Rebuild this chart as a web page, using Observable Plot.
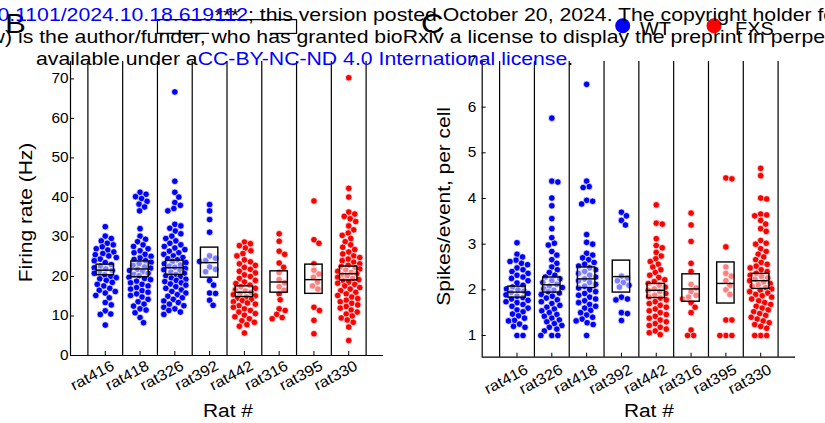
<!DOCTYPE html>
<html>
<head>
<meta charset="utf-8">
<script src="https://cdn.jsdelivr.net/npm/d3@7"></script>
<script src="https://cdn.jsdelivr.net/npm/@observablehq/plot@0.6"></script>
<style>
  html, body { margin: 0; padding: 0; background: #fff; }
  #fig { position: relative; width: 825px; height: 423px; overflow: hidden; background: #fff;
         font-family: "Liberation Sans", Arial, Helvetica, sans-serif; }
  #fig .panel { position: absolute; top: 0; }
  #fig svg.overlay { position: absolute; left: 0; top: 0; pointer-events: none; }
</style>
</head>
<body>
<div id="fig"></div>
<script>
// ---------- Rats (x categories) ----------
const ratsRate = ["rat416", "rat418", "rat326", "rat392", "rat442", "rat316", "rat395", "rat330"];
const ratsSpikes = ["rat416", "rat326", "rat418", "rat392", "rat442", "rat316", "rat395", "rat330"];
const groups = ["WT", "FXS"];

// ---------- B: firing rate per cell (Hz) ----------
const frRat416 = [32.6, 30.2, 29.6, 29.0, 28.4, 28.0, 27.5, 27.0, 26.7, 26.2, 25.8, 25.5, 25.2, 24.8, 24.4, 24.0, 23.5, 23.0, 22.6, 22.2, 21.9, 21.5, 21.1, 20.8, 20.4, 20.0, 19.7, 19.4, 19.0, 18.5, 18.0, 17.6, 17.0, 16.5, 16.2, 15.8, 15.2, 14.6, 13.4, 12.8, 11.3, 10.5, 10.4, 7.7];
const frRat418 = [41.3, 40.8, 40.2, 39.7, 39.0, 38.3, 37.6, 36.6, 32.1, 30.2, 29.4, 28.8, 28.0, 27.6, 27.0, 26.5, 26.0, 25.6, 25.1, 24.7, 24.3, 24.0, 23.6, 23.2, 22.8, 22.4, 22.1, 21.8, 21.5, 21.2, 20.8, 20.5, 20.2, 19.8, 19.5, 19.2, 18.8, 18.4, 18.0, 17.6, 17.2, 16.8, 16.4, 16.0, 15.6, 15.2, 14.8, 14.2, 13.6, 13.0, 12.5, 11.8, 11.5, 10.8, 9.6, 8.3];
const frRat326 = [66.7, 44.1, 41.3, 40.1, 38.7, 38.0, 37.2, 36.6, 33.2, 32.8, 32.2, 31.5, 30.8, 30.2, 29.6, 29.0, 28.4, 28.0, 27.6, 27.2, 26.8, 26.4, 26.0, 25.6, 25.2, 24.8, 24.5, 24.2, 23.8, 23.5, 23.2, 22.9, 22.6, 22.3, 22.0, 21.7, 21.4, 21.1, 20.8, 20.5, 20.2, 19.9, 19.6, 19.3, 19.0, 18.7, 18.4, 18.1, 17.8, 17.4, 17.0, 16.6, 16.2, 15.8, 15.4, 15.0, 14.6, 14.2, 13.8, 13.4, 13.0, 12.6, 12.2, 11.8, 11.4, 11.0, 10.4];
const frRat392 = [38.2, 36.6, 34.4, 31.2, 25.2, 24.6, 24.0, 23.8, 22.4, 21.8, 21.2, 19.0, 17.8, 15.8, 15.7, 14.0, 12.7];
const frRat442 = [28.7, 28.3, 27.8, 27.2, 26.5, 25.8, 25.2, 24.2, 23.7, 23.2, 22.8, 22.3, 21.8, 21.3, 20.9, 20.4, 20.0, 19.5, 19.0, 18.6, 18.2, 17.8, 17.4, 17.0, 16.6, 16.3, 16.0, 15.7, 15.4, 15.1, 14.8, 14.5, 14.2, 13.9, 13.6, 13.3, 13.0, 12.6, 12.2, 11.8, 11.4, 11.0, 10.6, 10.2, 9.8, 9.3, 8.8, 8.4, 7.8, 7.4, 5.7];
const frRat316 = [30.8, 28.9, 26.4, 25.6, 23.4, 22.3, 21.0, 19.2, 18.4, 17.4, 16.5, 15.6, 14.1, 11.8, 11.4, 10.4, 9.6, 9.3];
const frRat395 = [39.1, 29.3, 28.4, 23.2, 21.6, 20.6, 19.8, 18.6, 17.6, 16.8, 12.2, 11.4, 8.9, 5.5];
const frRat330 = [70.3, 42.3, 40.1, 36.3, 35.8, 35.2, 34.6, 33.9, 32.8, 31.8, 31.0, 30.4, 29.6, 28.8, 28.0, 27.4, 26.8, 26.2, 25.7, 25.2, 24.8, 24.4, 24.0, 23.6, 23.2, 22.8, 22.5, 22.2, 21.9, 21.6, 21.3, 21.0, 20.7, 20.4, 20.1, 19.8, 19.5, 19.2, 18.9, 18.6, 18.3, 18.0, 17.6, 17.2, 16.8, 16.4, 16.0, 15.6, 15.2, 14.8, 14.4, 14.0, 13.6, 13.2, 12.8, 12.4, 12.0, 11.5, 11.0, 10.5, 10.0, 9.5, 9.0, 8.4, 7.2, 3.8];
// mean and mean ± SEM, same order as ratsRate
const frMean = [21.6, 21.9, 22.2, 23.5, 16.0, 18.6, 19.2, 20.7];
const frLow  = [20.3, 19.8, 20.4, 19.7, 14.8, 15.9, 15.6, 19.0];
const frHigh = [23.0, 23.8, 24.0, 27.3, 17.5, 21.3, 23.0, 22.5];
const rateTicks = [0, 10, 20, 30, 40, 50, 60, 70];

// ---------- C: spikes per event, per cell ----------
const spRat416 = [3.03, 2.78, 2.72, 2.65, 2.62, 2.58, 2.55, 2.48, 2.44, 2.40, 2.36, 2.32, 2.28, 2.25, 2.20, 2.15, 2.10, 2.06, 2.02, 2.00, 1.97, 1.94, 1.92, 1.89, 1.86, 1.83, 1.80, 1.77, 1.74, 1.72, 1.68, 1.64, 1.60, 1.56, 1.52, 1.47, 1.43, 1.38, 1.33, 1.32, 1.25, 1.20, 1.18, 1.00, 1.00];
const spRat326 = [5.76, 4.38, 4.36, 4.01, 3.84, 3.56, 3.34, 3.14, 3.02, 2.98, 2.84, 2.76, 2.66, 2.58, 2.50, 2.44, 2.38, 2.32, 2.28, 2.24, 2.20, 2.16, 2.12, 2.08, 2.05, 2.02, 1.99, 1.96, 1.93, 1.90, 1.86, 1.82, 1.78, 1.74, 1.70, 1.66, 1.62, 1.58, 1.54, 1.50, 1.46, 1.42, 1.38, 1.34, 1.30, 1.26, 1.22, 1.18, 1.14, 1.10, 1.00, 1.00, 1.00];
const spRat418 = [6.50, 4.38, 4.26, 4.24, 3.96, 3.94, 3.88, 3.21, 3.04, 3.00, 2.80, 2.76, 2.70, 2.66, 2.60, 2.56, 2.52, 2.48, 2.44, 2.40, 2.36, 2.32, 2.28, 2.24, 2.20, 2.16, 2.12, 2.08, 2.04, 2.00, 1.96, 1.92, 1.88, 1.84, 1.80, 1.76, 1.72, 1.68, 1.64, 1.60, 1.55, 1.50, 1.45, 1.40, 1.36, 1.32, 1.28, 1.24, 1.00];
const spRat392 = [3.70, 3.62, 3.52, 3.42, 2.30, 2.26, 2.20, 2.16, 2.10, 2.06, 1.84, 1.80, 1.78, 1.50, 1.48, 1.33];
const spRat442 = [3.86, 3.46, 3.44, 3.12, 2.97, 2.92, 2.82, 2.74, 2.68, 2.62, 2.56, 2.50, 2.44, 2.38, 2.32, 2.27, 2.22, 2.18, 2.14, 2.10, 2.06, 2.02, 1.99, 1.96, 1.92, 1.88, 1.85, 1.82, 1.78, 1.74, 1.70, 1.66, 1.62, 1.58, 1.54, 1.50, 1.46, 1.42, 1.38, 1.34, 1.30, 1.26, 1.22, 1.18, 1.14, 1.10, 1.06, 1.02];
const spRat316 = [3.68, 3.42, 3.06, 2.58, 2.40, 2.12, 2.04, 1.96, 1.88, 1.84, 1.80, 1.72, 1.62, 1.50, 1.12, 1.00, 1.00];
const spRat395 = [4.45, 4.43, 2.94, 2.50, 2.36, 2.30, 2.20, 2.10, 2.00, 1.90, 1.34, 1.34, 1.00, 1.00, 1.00];
const spRat330 = [4.66, 4.50, 4.01, 3.99, 3.66, 3.64, 3.62, 3.52, 3.44, 3.34, 3.28, 3.08, 3.02, 3.00, 2.90, 2.84, 2.78, 2.72, 2.66, 2.60, 2.56, 2.52, 2.48, 2.44, 2.40, 2.36, 2.32, 2.29, 2.26, 2.23, 2.20, 2.17, 2.14, 2.11, 2.08, 2.05, 2.02, 1.99, 1.96, 1.93, 1.90, 1.87, 1.84, 1.80, 1.76, 1.72, 1.68, 1.64, 1.60, 1.56, 1.52, 1.48, 1.44, 1.40, 1.36, 1.32, 1.28, 1.24, 1.20, 1.16, 1.00, 1.00, 1.00];
// mean and mean ± SEM, same order as ratsSpikes
const spMean = [1.95, 2.11, 2.24, 2.29, 1.99, 2.02, 2.14, 2.20];
const spLow  = [1.83, 1.94, 2.04, 1.94, 1.82, 1.74, 1.70, 2.02];
const spHigh = [2.07, 2.27, 2.49, 2.64, 2.13, 2.34, 2.60, 2.35];
const spikeTicks = [1, 2, 3, 4, 5, 6, 7];

// ---------- layout ----------
const H = 423;
const FONT = "'Liberation Sans', Arial, Helvetica, sans-serif";
const TEXT_STRETCH = 1.1;

// Beeswarm: place each value at the horizontal offset (px) closest to the
// category centre that does not collide with the points already placed.
function swarm(values, slot, xs, ys, sep, maxOff) {
  const cx = xs.apply(slot);
  const pts = values.map(v => ({value: v, py: ys.apply(v)})).sort((a, b) => a.py - b.py);
  const offsets = [0];
  for (let k = 1; k * 0.5 <= maxOff; k++) offsets.push(k * 0.5, -k * 0.5);
  const placed = [];
  for (const p of pts) {
    let chosen = null, bestOff = 0, bestGap = -1;
    for (const o of offsets) {
      let gap = Infinity;
      for (const q of placed) {
        const dy = q.py - p.py;
        if (Math.abs(dy) >= sep) continue;
        gap = Math.min(gap, Math.hypot(q.off - o, dy));
      }
      if (gap >= sep) { chosen = o; break; }
      if (gap > bestGap) { bestGap = gap; bestOff = o; }
    }
    p.off = chosen ?? bestOff;
    placed.push(p);
  }
  return pts.map(p => ({value: p.value, x: xs.invert(cx + p.off)}));
}

// Widen the glyphs a little along their own baseline (rotations included).
function stretchText(svg, s) {
  svg.querySelectorAll("text").forEach(t => {
    const tr = t.getAttribute("transform");
    if (tr) t.setAttribute("transform", `${tr} scale(${s},1)`);
    else {
      const x = t.getAttribute("x") || 0, y = t.getAttribute("y") || 0;
      t.removeAttribute("x"); t.removeAttribute("y");
      t.setAttribute("transform", `translate(${x},${y}) scale(${s},1)`);
    }
  });
}

function panel(cfg) {
  const {rats, series, mean, low, high, yDomain, yTicks, width, ml, mr, mt, mb,
         yLabel, yLabelDx, yLabelDy, xLabelDx, xLabelDy, tickDx, tickDy, yTickGap, extra = []} = cfg;
  const xs = Plot.scale({x: {domain: [0, 9], range: [ml, width - mr]}});
  const ys = Plot.scale({y: {domain: yDomain, range: [H - mb, mt]}});
  const points = rats.flatMap((rat, i) =>
    swarm(series[i], i + 1, xs, ys, 6, 11).map(p => ({...p, rat, group: i < 4 ? "WT" : "FXS"})));
  const boxes = rats.map((rat, i) => ({rat, slot: i + 1, mean: mean[i], low: low[i], high: high[i]}));
  const slots = d3.range(1, rats.length + 1);

  const svg = Plot.plot({
    width, height: H,
    marginLeft: ml, marginRight: mr, marginTop: mt, marginBottom: mb,
    style: {fontFamily: FONT, fontSize: "14px", color: "#000", background: "transparent", overflow: "visible"},
    x: {domain: [0, 9]},
    y: {domain: yDomain},
    color: {domain: groups, range: ["#0000ff", "#ff0000"]},
    marks: [
      // separators between rats
      Plot.ruleX(d3.range(0.5, 9, 1), {stroke: "#000", strokeWidth: 1.2}),
      // one dot per cell
      Plot.dot(points, {x: "x", y: "value", fill: "group", stroke: "#fff", strokeWidth: 0.7, r: 3.3}),
      // mean ± SEM box with mean line
      Plot.rect(boxes, {x1: d => d.slot - 0.25, x2: d => d.slot + 0.25, y1: "low", y2: "high",
                        fill: "#fff", fillOpacity: 0.5, stroke: "#000", strokeWidth: 1.4}),
      Plot.ruleY(boxes, {y: "mean", x1: d => d.slot - 0.25, x2: d => d.slot + 0.25, stroke: "#000", strokeWidth: 1.4}),
      // axis lines
      Plot.ruleY([yDomain[0]], {stroke: "#000", strokeWidth: 1.2}),
      Plot.ruleX([0], {stroke: "#000", strokeWidth: 1.2}),
      // inward ticks
      Plot.axisY({ticks: yTicks, tickSize: -4, tickFormat: () => "", label: null}),
      Plot.axisX({ticks: slots, tickSize: -4, tickFormat: () => "", label: null}),
      // tick labels
      Plot.axisY({ticks: yTicks, tickSize: 0, tickPadding: yTickGap, tickFormat: d => String(d), label: null, fontSize: 14}),
      Plot.axisX({ticks: slots, tickSize: 0, tickFormat: i => rats[i - 1], tickRotate: -28,
                  textAnchor: "end", lineAnchor: "top", tickPadding: tickDy, dx: tickDx, label: null, fontSize: 15}),
      // axis titles
      Plot.text(["Rat #"], {text: d => d, frameAnchor: "bottom", textAnchor: "middle", lineAnchor: "bottom",
                            dx: xLabelDx, dy: xLabelDy, fontSize: 19}),
      Plot.text([yLabel], {text: d => d, frameAnchor: "left", textAnchor: "middle", lineAnchor: "middle",
                           rotate: -90, dx: yLabelDx, dy: yLabelDy, fontSize: 19}),
      ...extra
    ]
  });
  stretchText(svg, TEXT_STRETCH);
  return svg;
}

// significance bracket between the WT and FXS groups
const bracket = [
  Plot.line([[2.5, 81.5], [2.5, 85], [6.5, 85], [6.5, 81.5]], {stroke: "#000", strokeWidth: 1.2}),
  Plot.ruleY([{y: 81.5, x1: 2.5, x2: 4}, {y: 81.5, x1: 5.75, x2: 6.5}], {y: "y", x1: "x1", x2: "x2", stroke: "#000", strokeWidth: 1.2}),
  Plot.text(["***"], {text: d => d, x: 4.5, y: 85, textAnchor: "middle", lineAnchor: "bottom", fontSize: 19, dy: 2})
];

const fig = document.getElementById("fig");

const svgB = panel({
  rats: ratsRate,
  series: [frRat416, frRat418, frRat326, frRat392, frRat442, frRat316, frRat395, frRat330],
  mean: frMean, low: frLow, high: frHigh,
  yDomain: [0, 74.4], yTicks: rateTicks,
  width: 420, ml: 70, mr: 37, mt: 61, mb: 68,
  yLabel: "Firing rate (Hz)", yLabelDx: -45, yLabelDy: 4,
  xLabelDx: 1, xLabelDy: 61, tickDx: 5, tickDy: 4, yTickGap: 2,
  extra: bracket
});
const svgC = panel({
  rats: ratsSpikes,
  series: [spRat416, spRat326, spRat418, spRat392, spRat442, spRat316, spRat395, spRat330],
  mean: spMean, low: spLow, high: spHigh,
  yDomain: [0.525, 7], yTicks: spikeTicks,
  width: 405, ml: 61.7, mr: 30, mt: 61, mb: 66.3,
  yLabel: "Spikes/event, per cell", yLabelDx: -38.7, yLabelDy: -3,
  xLabelDx: 10, xLabelDy: 59.3, tickDx: 7, tickDy: 6, yTickGap: 6
});

for (const [svg, left] of [[svgB, 0], [svgC, 420]]) {
  const wrap = document.createElement("div");
  wrap.className = "panel";
  wrap.style.left = left + "px";
  wrap.appendChild(svg);
  fig.appendChild(wrap);
}

// panel letters, legend and the preprint notice on top
const ns = "http://www.w3.org/2000/svg";
const overlay = document.createElementNS(ns, "svg");
overlay.setAttribute("class", "overlay");
overlay.setAttribute("width", 825);
overlay.setAttribute("height", H);
overlay.setAttribute("font-family", "Liberation Sans, Arial, Helvetica, sans-serif");
const wm = 1.18;
overlay.innerHTML = `
  <text transform="translate(5,33) scale(1.12,1)" font-size="28">B</text>
  <text transform="translate(421,33) scale(1.12,1)" font-size="28">C</text>
  <circle cx="622.7" cy="25.7" r="7.5" fill="#0000ff"></circle>
  <text transform="translate(640,35) scale(1.05,1)" font-size="19">WT</text>
  <circle cx="714" cy="25.7" r="7.5" fill="#ff0000"></circle>
  <text transform="translate(735,35) scale(1.05,1)" font-size="19">FXS</text>
  <g font-size="18" fill="#000">
    <text transform="translate(248,21) scale(${wm},1)" text-anchor="end">bioRxiv preprint doi: <tspan fill="#0000ff">https://doi.org/10.1101/2024.10.18.619112</tspan></text>
    <text transform="translate(248,21) scale(${wm},1)">; this version posted October 20, 2024. The copyright holder for this preprint</text>
    <text transform="translate(12,43) scale(${wm},1)" text-anchor="end">(which was not certified by peer review)</text>
    <text transform="translate(18,43) scale(${wm},1)">is the author/funder, who has granted bioRxiv a license to display the preprint in perpetuity. It is made</text>
    <text transform="translate(36,65) scale(${wm},1)">available under a<tspan fill="#0000ff">CC-BY-NC-ND 4.0 International license</tspan>.</text>
  </g>`;
fig.appendChild(overlay);
</script>
</body>
</html>
